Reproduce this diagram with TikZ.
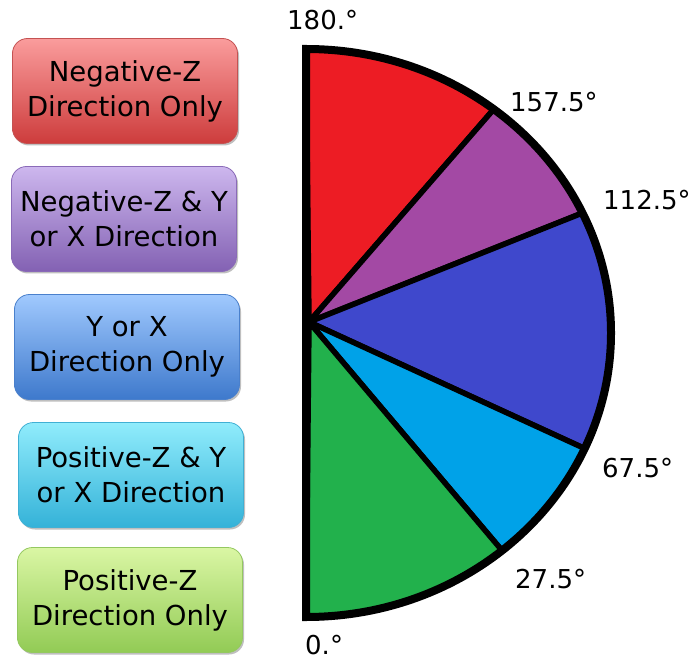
\documentclass[tikz,border=0pt]{standalone}
\usepackage{fontspec}
\setmainfont{DejaVu Sans}
\usetikzlibrary{shadows,calc}
\definecolor{wred}{HTML}{ED1C24}
\definecolor{wpurple}{HTML}{A349A4}
\definecolor{wblue}{HTML}{3F48CC}
\definecolor{wcyan}{HTML}{00A2E8}
\definecolor{wgreen}{HTML}{22B14C}
\definecolor{redtop}{HTML}{FA9C9C}
\definecolor{redbot}{HTML}{CD3C3C}
\definecolor{redline}{HTML}{C45252}
\definecolor{purtop}{HTML}{CDB7EE}
\definecolor{purbot}{HTML}{8361B3}
\definecolor{purline}{HTML}{8A6AB8}
\definecolor{blutop}{HTML}{A0C9FE}
\definecolor{blubot}{HTML}{3E79CC}
\definecolor{bluline}{HTML}{4A80CC}
\definecolor{cyatop}{HTML}{90ECFC}
\definecolor{cyabot}{HTML}{34B2D8}
\definecolor{cyaline}{HTML}{40B0D4}
\definecolor{gretop}{HTML}{DAF6A4}
\definecolor{grebot}{HTML}{92CB55}
\definecolor{greline}{HTML}{94C860}
\begin{document}
\begin{tikzpicture}[x=1pt,y=1pt,
  box/.style={rounded corners=15pt, minimum width=225pt, minimum height=105pt,
    align=center, font=\fontsize{27.5}{35}\selectfont, line width=0.8pt,
    drop shadow={shadow xshift=1.5pt, shadow yshift=-2pt, opacity=0.25, fill=black}},
  wedge/.style={draw=black, line width=5.5pt, line join=round},
  deg/.style={anchor=base west, inner sep=0pt, font=\fontsize{26}{30}\selectfont}]
\useasboundingbox (0,0) rectangle (692,659);

% boxes
\node[box, top color=redtop, bottom color=redbot, draw=redline] (b1) at (125,568) {Negative-Z\\Direction Only};
\node[box, top color=purtop, bottom color=purbot, draw=purline] (b2) at (124,440) {Negative-Z \& Y\\or X Direction};
\node[box, top color=blutop, bottom color=blubot, draw=bluline] (b3) at (127,312) {Y or X\\Direction Only};
\node[box, top color=cyatop, bottom color=cyabot, draw=cyaline] (b4) at (131,184) {Positive-Z \& Y\\or X Direction};
\node[box, top color=gretop, bottom color=grebot, draw=greline] (b5) at (130,59) {Positive-Z\\Direction Only};

% wedges
\coordinate (V) at (309,337);
\coordinate (P90) at (306,610);
\coordinate (P52) at (493.8,549.8);
\coordinate (P25) at (582.4,446.0);
\coordinate (P24) at (584.6,210.5);
\coordinate (P50) at (502.1,108.4);
\coordinate (P0) at (306,42);
\def\rx{305}\def\ry{284}
\filldraw[wedge, fill=wred] (V) -- (P90) arc[start angle=90, end angle=52, x radius=\rx, y radius=\ry] -- cycle;
\filldraw[wedge, fill=wpurple] (V) -- (P52) arc[start angle=52, end angle=25, x radius=\rx, y radius=\ry] -- cycle;
\filldraw[wedge, fill=wblue] (V) -- (P25) arc[start angle=25, end angle=-24, x radius=\rx, y radius=\ry] -- cycle;
\filldraw[wedge, fill=wcyan] (V) -- (P24) arc[start angle=-24, end angle=-50, x radius=\rx, y radius=\ry] -- cycle;
\filldraw[wedge, fill=wgreen] (V) -- (P50) arc[start angle=-50, end angle=-90, x radius=\rx, y radius=\ry] -- cycle;
\draw[line width=8pt, line join=miter] (P90) arc[start angle=90, end angle=-90, x radius=\rx, y radius=\ry] -- cycle;

% labels
\node[deg] (l180) at (287,629) {180.°};
\node[deg] (l157) at (510,547) {157.5°};
\node[deg] (l112) at (603,449) {112.5°};
\node[deg] (l67) at (602,182) {67.5°};
\node[deg] (l27) at (515,71) {27.5°};
\node[deg] (l0) at (305,5) {0.°};
\end{tikzpicture}
\end{document}
